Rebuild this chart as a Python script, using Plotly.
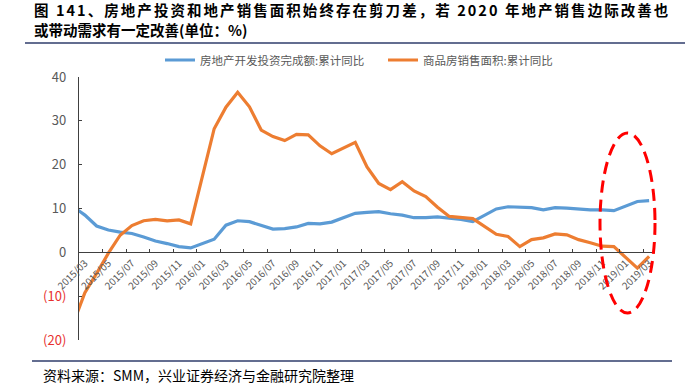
import plotly.graph_objects as go

# ---- data (cumulative YoY %, January not published -> None) ----
months = [
    "2015/02", "2015/03", "2015/04", "2015/05", "2015/06", "2015/07", "2015/08", "2015/09", "2015/10", "2015/11", "2015/12",
    "2016/01", "2016/02", "2016/03", "2016/04", "2016/05", "2016/06", "2016/07", "2016/08", "2016/09", "2016/10", "2016/11", "2016/12",
    "2017/01", "2017/02", "2017/03", "2017/04", "2017/05", "2017/06", "2017/07", "2017/08", "2017/09", "2017/10", "2017/11", "2017/12",
    "2018/01", "2018/02", "2018/03", "2018/04", "2018/05", "2018/06", "2018/07", "2018/08", "2018/09", "2018/10", "2018/11", "2018/12",
    "2019/01", "2019/02", "2019/03",
]
invest_yoy = [
    10.4, 8.5, 6.0, 5.1, 4.6, 4.3, 3.5, 2.6, 2.0, 1.3, 1.0,
    None, 3.0, 6.2, 7.2, 7.0, 6.1, 5.3, 5.4, 5.8, 6.6, 6.5, 6.9,
    None, 8.9, 9.1, 9.3, 8.8, 8.5, 7.9, 7.9, 8.1, 7.8, 7.5, 7.0,
    None, 9.9, 10.4, 10.3, 10.2, 9.7, 10.2, 10.1, 9.9, 9.7, 9.7, 9.5,
    None, 11.6, 11.8,
]
sales_area_yoy = [
    -16.3, -9.2, -4.8, -0.2, 3.9, 6.1, 7.2, 7.5, 7.2, 7.4, 6.5,
    None, 28.2, 33.1, 36.5, 33.2, 27.9, 26.4, 25.5, 26.9, 26.8, 24.3, 22.5,
    None, 25.1, 19.5, 15.7, 14.3, 16.1, 14.0, 12.7, 10.3, 8.2, 7.9, 7.7,
    None, 4.1, 3.6, 1.3, 2.9, 3.3, 4.2, 4.0, 2.9, 2.2, 1.4, 1.3,
    None, -3.6, -0.9,
]
series_names = ["房地产开发投资完成额:累计同比", "商品房销售面积:累计同比"]
series_colors = ["#5B9BD5", "#ED7D31"]
y_tick_vals = [-20, -10, 0, 10, 20, 30, 40]
y_tick_text = ["(20)", "(10)", "0", "10", "20", "30", "40"]

title_line1 = "图 141、房地产投资和地产销售面积始终存在剪刀差，若 2020 年地产销售边际改善也"
title_line2 = "或带动需求有一定改善(单位：%)"
source_text = "资料来源：SMM，兴业证券经济与金融研究院整理"

GRAY = "#595959"
RED = "#E8302E"
CJK = "Noto Sans CJK SC"

# plot-area geometry in pixels (used to convert layout positions)
L, R, T, B = 79, 655, 77, 340
W, H = R - L, B - T


def px_x(px):
    return (px - L) / W


def px_y(py):
    return (B - py) / H


fig = go.Figure()
for name, vals, col in zip(series_names, [invest_yoy, sales_area_yoy], series_colors):
    fig.add_trace(go.Scatter(
        x=months, y=vals, name=name, mode="lines", connectgaps=True,
        line=dict(color=col, width=3.2), hoverinfo="skip",
    ))

ticktext = [
    (f'<span style="color:{RED}">{t}</span>' if v < 0 else t)
    for v, t in zip(y_tick_vals, y_tick_text)
]

fig.update_layout(
    width=685, height=386,
    margin=dict(l=L, r=685 - R, t=T, b=386 - B, autoexpand=False),
    paper_bgcolor="white", plot_bgcolor="white",
    showlegend=True,
    legend=dict(
        orientation="h", x=px_x(160), xanchor="left", y=px_y(60), yanchor="middle",
        font=dict(family=CJK, size=11.5, color=GRAY),
        itemwidth=30, entrywidth=178, entrywidthmode="pixels",
        bgcolor="rgba(0,0,0,0)",
    ),
    xaxis=dict(
        type="category", categoryorder="array", categoryarray=months,
        range=[0.5, len(months) - 0.5],
        tickmode="linear", tick0=1, dtick=2,
        tickson="boundaries", ticks="inside", ticklen=3, tickcolor="#404040",
        tickangle=-45, tickfont=dict(family=CJK, size=10, color=GRAY),
        showline=True, linecolor="#404040", linewidth=1.2,
        showgrid=False, zeroline=False,
        anchor="free", position=1 / 3,
    ),
    yaxis=dict(
        range=[-20, 40], tickvals=y_tick_vals, ticktext=ticktext,
        ticks="inside", ticklen=3, tickcolor="#404040",
        tickfont=dict(family=CJK, size=13, color=GRAY),
        ticklabelstandoff=9,
        showline=True, linecolor="#404040", linewidth=1.2,
        showgrid=False, zeroline=False,
    ),
)

# ---- title (line 1 is justified in the source, emulate with letter-spacing) ----
fig.add_annotation(text=f'<b><span style="letter-spacing:2.05px">{title_line1}</span></b>',
                   xref="paper", yref="paper", x=px_x(32), y=px_y(10),
                   xanchor="left", yanchor="middle", showarrow=False,
                   font=dict(family=CJK, size=14.5, color="#000000"))
fig.add_annotation(text=f"<b>{title_line2}</b>", xref="paper", yref="paper",
                   x=px_x(32), y=px_y(29), xanchor="left", yanchor="middle",
                   showarrow=False, font=dict(family=CJK, size=14.5, color="#000000"))
fig.add_annotation(text=source_text, xref="paper", yref="paper",
                   x=px_x(41), y=px_y(375), xanchor="left", yanchor="middle",
                   showarrow=False, font=dict(family=CJK, size=14, color="#000000"))

# separator lines
fig.add_shape(type="line", xref="paper", yref="paper",
              x0=px_x(25), x1=px_x(685), y0=px_y(43), y1=px_y(43),
              line=dict(color="#2F3D6B", width=1.5))
fig.add_shape(type="line", xref="paper", yref="paper",
              x0=px_x(32), x1=px_x(672), y0=px_y(361), y1=px_y(361),
              line=dict(color="#2F3D6B", width=1.5))

# red dashed ellipse highlight
fig.add_shape(type="circle", xref="paper", yref="paper",
              x0=px_x(600), x1=px_x(655), y0=px_y(313), y1=px_y(133),
              line=dict(color="#FF0000", width=3, dash="12px,7px"))

fig.write_html("out.html", config={"displayModeBar": False},
               post_script="document.body.style.margin='0';")
